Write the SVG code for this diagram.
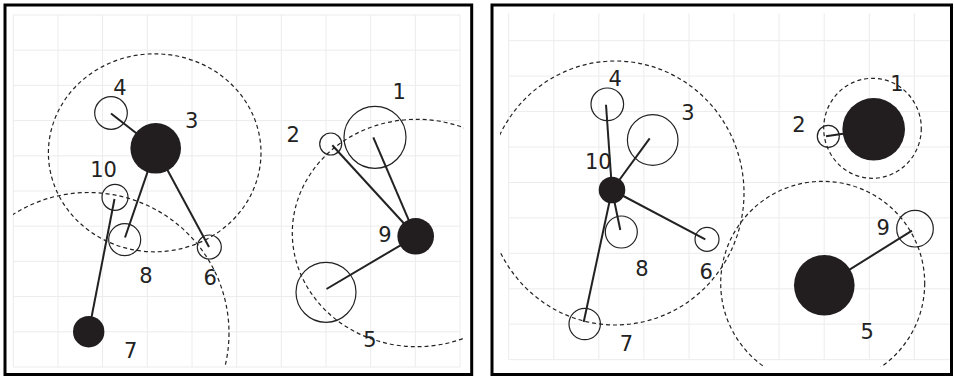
<svg xmlns="http://www.w3.org/2000/svg" width="954" height="376" viewBox="0 0 954 376">
<style>
.grid line{stroke:#ececec;stroke-width:1}
.frame{fill:none;stroke:#000;stroke-width:3}
.range{fill:none;stroke:#222;stroke-width:1.2;stroke-dasharray:4 3}
.open{fill:none;stroke:#222;stroke-width:1.2}
.solid{fill:#221e1f;stroke:none}
.conn line{stroke:#222;stroke-width:2}
text{font-family:"DejaVu Sans","Liberation Sans",sans-serif;font-size:21px;fill:#222;text-anchor:middle}
</style>
<defs>
<clipPath id="clipL"><rect x="13" y="8" width="451" height="359"/></clipPath>
<clipPath id="clipR"><rect x="500" y="8" width="450" height="358.7"/></clipPath>
</defs>
<rect width="954" height="376" fill="#fff"/>
<g class="grid" id="gridL">
<line x1="13.3" y1="15" x2="13.3" y2="367"/><line x1="58" y1="15" x2="58" y2="367"/><line x1="102.6" y1="15" x2="102.6" y2="367"/><line x1="147.3" y1="15" x2="147.3" y2="367"/><line x1="192" y1="15" x2="192" y2="367"/><line x1="236.7" y1="15" x2="236.7" y2="367"/><line x1="281.3" y1="15" x2="281.3" y2="367"/><line x1="326" y1="15" x2="326" y2="367"/><line x1="370.7" y1="15" x2="370.7" y2="367"/><line x1="415.3" y1="15" x2="415.3" y2="367"/><line x1="460" y1="15" x2="460" y2="367"/>
<line x1="13.3" y1="15" x2="460" y2="15"/><line x1="13.3" y1="50.2" x2="460" y2="50.2"/><line x1="13.3" y1="85.4" x2="460" y2="85.4"/><line x1="13.3" y1="120.6" x2="460" y2="120.6"/><line x1="13.3" y1="155.8" x2="460" y2="155.8"/><line x1="13.3" y1="191" x2="460" y2="191"/><line x1="13.3" y1="226.2" x2="460" y2="226.2"/><line x1="13.3" y1="261.4" x2="460" y2="261.4"/><line x1="13.3" y1="296.6" x2="460" y2="296.6"/><line x1="13.3" y1="331.8" x2="460" y2="331.8"/><line x1="13.3" y1="367" x2="460" y2="367"/>
</g>
<g class="grid" id="gridR">
<line x1="508.7" y1="13.3" x2="508.7" y2="359.7"/><line x1="553.8" y1="13.3" x2="553.8" y2="359.7"/><line x1="598.8" y1="13.3" x2="598.8" y2="359.7"/><line x1="643.9" y1="13.3" x2="643.9" y2="359.7"/><line x1="689" y1="13.3" x2="689" y2="359.7"/><line x1="734" y1="13.3" x2="734" y2="359.7"/><line x1="779.1" y1="13.3" x2="779.1" y2="359.7"/><line x1="824.2" y1="13.3" x2="824.2" y2="359.7"/><line x1="869.3" y1="13.3" x2="869.3" y2="359.7"/><line x1="914.3" y1="13.3" x2="914.3" y2="359.7"/>
<line x1="508.7" y1="40.7" x2="950" y2="40.7"/><line x1="508.7" y1="76.1" x2="950" y2="76.1"/><line x1="508.7" y1="111.6" x2="950" y2="111.6"/><line x1="508.7" y1="147" x2="950" y2="147"/><line x1="508.7" y1="182.5" x2="950" y2="182.5"/><line x1="508.7" y1="217.9" x2="950" y2="217.9"/><line x1="508.7" y1="253.3" x2="950" y2="253.3"/><line x1="508.7" y1="288.8" x2="950" y2="288.8"/><line x1="508.7" y1="324.2" x2="950" y2="324.2"/><line x1="508.7" y1="359.7" x2="950" y2="359.7"/>
</g>
<rect class="frame" x="5" y="5" width="466.7" height="369.5"/>
<rect class="frame" x="492" y="5" width="459.5" height="369.5"/>
<g id="rangesL" clip-path="url(#clipL)">
<ellipse class="range" cx="154.7" cy="152.8" rx="106.3" ry="99"/>
<circle class="range" cx="88.5" cy="333" r="140.5"/>
<ellipse class="range" cx="416.7" cy="233" rx="124.4" ry="113.7"/>
</g>
<g id="rangesR" clip-path="url(#clipR)">
<ellipse class="range" cx="615.3" cy="193" rx="128.7" ry="132"/>
<ellipse class="range" cx="872.5" cy="128.3" rx="48.8" ry="50"/>
<circle class="range" cx="822.7" cy="283.3" r="102"/>
</g>
<g class="conn" id="connectors">
<line x1="111" y1="113.5" x2="155.7" y2="148.3"/>
<line x1="155.7" y1="148.3" x2="125" y2="237.5"/>
<line x1="155.7" y1="148.3" x2="209" y2="247"/>
<line x1="88.7" y1="331.7" x2="114.5" y2="199"/>
<line x1="415.7" y1="236.3" x2="373.3" y2="137.3"/>
<line x1="415.7" y1="236.3" x2="332.3" y2="145.3"/>
<line x1="415.7" y1="236.3" x2="326.5" y2="289"/>
<line x1="612" y1="190" x2="606" y2="104.7"/>
<line x1="612" y1="190" x2="649.7" y2="138.3"/>
<line x1="612" y1="190" x2="620.3" y2="230"/>
<line x1="612" y1="190" x2="705.3" y2="239.3"/>
<line x1="612" y1="190" x2="583.7" y2="322"/>
<line x1="826" y1="136.3" x2="873.7" y2="129.3"/>
<line x1="824.3" y1="285.3" x2="912" y2="230.7"/>
</g>
<g id="L-node-1"><circle class="open" cx="375" cy="137.3" r="31"/><text x="399.2" y="99.4">1</text></g>
<g id="L-node-2"><circle class="open" cx="330.7" cy="144" r="11"/><text x="293.2" y="142.4">2</text></g>
<g id="L-node-3"><circle class="solid" cx="155.7" cy="148.3" r="25.3"/><text x="191.8" y="128">3</text></g>
<g id="L-node-4"><circle class="open" cx="111" cy="113" r="16.3"/><text x="120" y="94.7">4</text></g>
<g id="L-node-5"><circle class="open" cx="326" cy="292.3" r="30"/><text x="370" y="346.7">5</text></g>
<g id="L-node-6"><circle class="open" cx="209.3" cy="247" r="12"/><text x="210.3" y="284.5">6</text></g>
<g id="L-node-7"><circle class="solid" cx="88.7" cy="331.7" r="15.7"/><text x="130.8" y="358.2">7</text></g>
<g id="L-node-8"><circle class="open" cx="124.7" cy="239.7" r="16"/><text x="146" y="283.4">8</text></g>
<g id="L-node-9"><circle class="solid" cx="415.7" cy="236.3" r="18.3"/><text x="385" y="242.2">9</text></g>
<g id="L-node-10"><circle class="open" cx="115" cy="197.3" r="13"/><text x="103.5" y="176.7">10</text></g>
<g id="R-node-1"><circle class="solid" cx="873.7" cy="129.3" r="31.3"/><text x="897" y="90.5">1</text></g>
<g id="R-node-2"><circle class="open" cx="828.3" cy="136.3" r="11"/><text x="799" y="131.5">2</text></g>
<g id="R-node-3"><circle class="open" cx="652.7" cy="140" r="25.3"/><text x="688" y="120">3</text></g>
<g id="R-node-4"><circle class="open" cx="607.3" cy="104.3" r="16.3"/><text x="615.3" y="85.9">4</text></g>
<g id="R-node-5"><circle class="solid" cx="824.3" cy="285.3" r="30.3"/><text x="867.3" y="339.4">5</text></g>
<g id="R-node-6"><circle class="open" cx="707" cy="239.3" r="12"/><text x="706.3" y="278.5">6</text></g>
<g id="R-node-7"><circle class="open" cx="584.7" cy="324" r="15.7"/><text x="626.5" y="350.7">7</text></g>
<g id="R-node-8"><circle class="open" cx="621.3" cy="232" r="16"/><text x="642" y="275.7">8</text></g>
<g id="R-node-9"><circle class="open" cx="915" cy="228.7" r="18.3"/><text x="883.2" y="235">9</text></g>
<g id="R-node-10"><circle class="solid" cx="612" cy="190" r="13.3"/><text x="598.3" y="169.4">10</text></g>
</svg>
